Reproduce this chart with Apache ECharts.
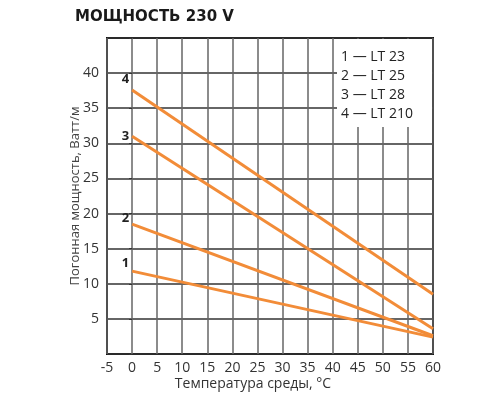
<!DOCTYPE html>
<html>
<head>
<meta charset="utf-8">
<script src="https://cdn.jsdelivr.net/npm/echarts@6/dist/echarts.min.js"></script>
<style>
  html,body{margin:0;padding:0;background:#fff;}
  #chart{width:500px;height:400px;}
</style>
</head>
<body>
<div id="chart"></div>
<script>
// данные графика
let temps=[0,60];
let lt23=[11.8,2.4];
let lt25=[18.5,2.6];
let lt28=[31,3.6];
let lt210=[37.6,8.5];
let lineNames=["1","2","3","4"];
let legendText=["1 — LT 23","2 — LT 25","3 — LT 28","4 — LT 210"];
let labelShift=[-8,-6,0,-11];

let font="Open Sans";
let orange="#F28C38";

function mkSeries(vals,i){
    let data=[];
    for(let k=0;k<temps.length;k++){
        let item={value:[temps[k],vals[k]]};
        if(k==0){
            item.label={
                show:true,
                formatter:lineNames[i],
                position:"left",
                distance:3,
                offset:[0,labelShift[i]],
                color:"#222",
                fontWeight:"bold",
                fontSize:13,
                fontFamily:font
            };
        }
        data.push(item);
    }
    return {
        type:"line",
        data:data,
        symbol:"circle",
        symbolSize:0,
        showSymbol:true,
        lineStyle:{color:orange,width:3},
        itemStyle:{color:orange},
        z:3
    };
}

let myChart=echarts.init(document.getElementById("chart"));

let legendGraphics=[{
    type:"rect",
    shape:{x:337,y:39,width:95,height:88},
    style:{fill:"#fff"},
    z:1
}];
legendText.forEach(function(t,i){
    legendGraphics.push({
        type:"text",
        x:341,
        y:50+i*19,
        style:{text:t,fontSize:14,fontFamily:font,fill:"#222"},
        z:2
    });
});
legendGraphics.push({
    type:"text",
    x:253,
    y:377,
    style:{text:"Температура среды, °С",fontSize:14,fontFamily:font,fill:"#333",align:"center"},
    z:2
});

let option={
    animation:false,
    title:{
        text:"МОЩНОСТЬ 230 V",
        left:70,
        top:5,
        textStyle:{fontSize:15,fontWeight:"bold",fontFamily:"DejaVu Sans",color:"#1a1a1a"}
    },
    grid:{
        left:107,
        right:67,
        top:38,
        bottom:46,
        show:true,
        borderColor:"#111",
        borderWidth:2
    },
    xAxis:{
        type:"value",
        min:-5,
        max:60,
        interval:5,
        axisLine:{show:false},
        axisTick:{show:false},
        axisLabel:{color:"#333",fontSize:14,fontFamily:font,margin:7},
        splitLine:{lineStyle:{color:"#666",width:1.5}}
    },
    yAxis:{
        type:"value",
        min:0,
        max:45,
        interval:5,
        name:"Погонная мощность, Ватт/м",
        nameLocation:"middle",
        nameGap:25,
        nameMoveOverlap:false,
        nameTextStyle:{color:"#444",fontSize:13,fontFamily:font},
        axisLine:{show:false},
        axisTick:{show:true,length:3,lineStyle:{color:"#333"}},
        axisLabel:{
            color:"#333",fontSize:14,fontFamily:font,margin:8,
            formatter:function(v){return (v==0||v==45)?"":v;}
        },
        splitLine:{lineStyle:{color:"#333",width:1.5}}
    },
    graphic:legendGraphics,
    series:[
        mkSeries(lt23,0),
        mkSeries(lt25,1),
        mkSeries(lt28,2),
        mkSeries(lt210,3)
    ]
};

myChart.setOption(option);
</script>
</body>
</html>
